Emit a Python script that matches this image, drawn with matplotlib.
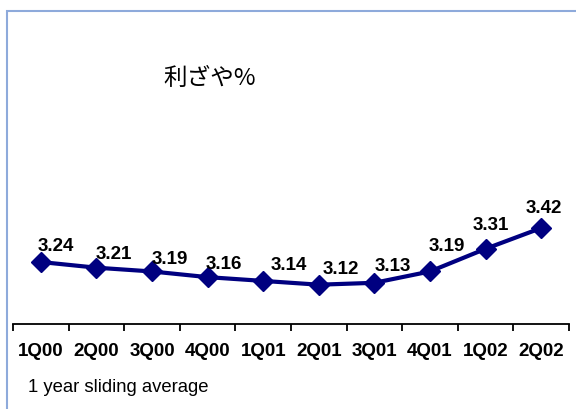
import numpy as np
import matplotlib.pyplot as plt
from matplotlib.patches import Rectangle

# quarterly spread, 1 year sliding average
quarters = ["1Q00", "2Q00", "3Q00", "4Q00", "1Q01", "2Q01", "3Q01", "4Q01", "1Q02", "2Q02"]
spread = [3.24, 3.21, 3.19, 3.16, 3.14, 3.12, 3.13, 3.19, 3.31, 3.42]

# where each value label sits relative to its point (pixels, right / up)
label_dx = [15, 17, 18, 16, 26, 22, 18, 17, 5, 3]
label_dy = [16, 13, 12, 13, 15, 15, 16, 25, 23, 20]

W, H = 576, 409
fig = plt.figure(figsize=(W / 100, H / 100), dpi=100)

# light blue frame, only top and left edges are inside the picture
fig.patches.append(Rectangle((7 / W, -0.1), 1.2, 1 - 11 / H + 0.1, transform=fig.transFigure,
                             fill=False, edgecolor="#8eaadb", linewidth=1.5))

ax = fig.add_axes([13 / W, 1 - 324 / H, (569 - 13) / W, (324 - 40) / H])
x = np.arange(len(quarters))
ax.plot(x, spread, color="#000080", linewidth=3, marker="D", markersize=10,
        markeredgecolor="#000080", markerfacecolor="#000080")

for xi, v, dx, dy in zip(x, spread, label_dx, label_dy):
    ax.annotate(f"{v:.2f}", (xi, v), xytext=(dx, dy), textcoords="offset pixels",
                ha="center", va="center", fontsize=13.5, fontweight="bold",
                family="Liberation Sans")

ax.set_xlim(-0.5, len(quarters) - 0.5)
ax.set_ylim(2.912, 4.415)
for s in ["top", "right", "left"]:
    ax.spines[s].set_visible(False)
ax.spines["bottom"].set_linewidth(1.3)
ax.set_yticks([])
ax.set_xticks(np.arange(len(quarters) + 1) - 0.5)
ax.set_xticklabels([])
ax.tick_params(axis="x", length=5, width=1.3, direction="out")
for xi, q in zip(x, quarters):
    ax.annotate(q, (xi, 0), xycoords=ax.get_xaxis_transform(), xytext=(0, -27),
                textcoords="offset pixels", ha="center", va="center",
                fontsize=13.5, fontweight="bold", family="Liberation Sans")

fig.text(163 / W, 1 - 78 / H, "利ざや%", ha="left", va="center", fontsize=17,
         family=["Noto Sans CJK JP", "DejaVu Sans"])
fig.text(28 / W, 1 - 387 / H, "1 year sliding average", ha="left", va="center",
         fontsize=13.3, family="Liberation Sans")

fig.savefig("out.png", dpi=100)
